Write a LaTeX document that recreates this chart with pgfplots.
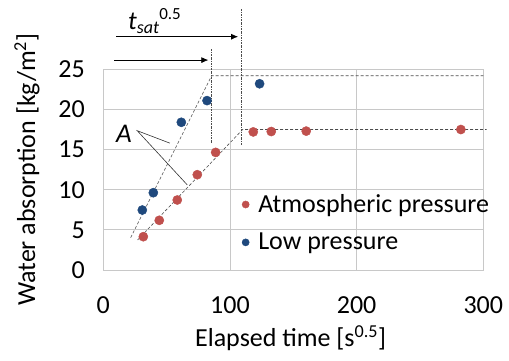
\documentclass[border=0pt]{standalone}
\usepackage{pgfplots}
\pgfplotsset{compat=1.18}
\usepackage{fontspec}
\setmainfont{Carlito}
\usetikzlibrary{arrows.meta}
\definecolor{cred}{HTML}{C0504D}
\definecolor{cblue}{HTML}{1F497D}
\definecolor{cgrid}{HTML}{C8C8C8}
\begin{document}
\begin{tikzpicture}
\begin{axis}[
  scale only axis, width=380pt, height=200.7pt,
  xmin=0, xmax=300, ymin=0, ymax=25,
  xtick={0,100,200,300}, ytick={0,5,10,15,20,25},
  grid=major, major grid style={cgrid, line width=0.8pt},
  axis line style={cgrid, line width=0.8pt},
  tick style={draw=none},
  clip=false,
  /pgf/number format/assume math mode=true,
  tick label style={font=\fontsize{26}{30}\selectfont},
  xticklabel style={yshift=-23pt},
  yticklabel style={xshift=-15pt},
  xlabel={Elapsed time [s\textsuperscript{0.5}]},
  ylabel={Water absorption [kg/m\textsuperscript{2}]},
  every axis x label/.style={at={(axis description cs:0.493,-0.382)}, anchor=base, font=\fontsize{26}{30}\selectfont},
  every axis y label/.style={at={(axis description cs:-0.201,0.5)}, anchor=center, rotate=90, font=\fontsize{26}{30}\selectfont},
  legend style={at={(axis cs:109.4,9.65)}, anchor=north west, draw=none, fill=none,
    font=\fontsize{26}{30}\selectfont, row sep=15pt, column sep=7pt, inner sep=0pt},
  legend image post style={mark size=3.6pt},
  legend cell align=left,
]
% fit lines
\addplot[forget plot, densely dashed, black!70, line width=0.6pt] coordinates {(27.1,3.74) (110,17.5) (302.6,17.5)};
\addplot[forget plot, densely dashed, black!70, line width=0.6pt] coordinates {(21.6,4.03) (85.5,24.2) (300,24.2)};
% vertical markers
\addplot[forget plot, dash pattern=on 2pt off 1pt on 0.6pt off 1pt, black!70, line width=0.6pt] coordinates {(108.7,15.6) (108.7,32.5)};
\addplot[forget plot, dash pattern=on 2pt off 1pt on 0.6pt off 1pt, black!70, line width=0.6pt] coordinates {(85.5,15.8) (85.5,27.6)};
% arrows
\addplot[forget plot, -{Latex[length=7pt,width=6pt]}, black, line width=0.7pt] coordinates {(10.1,29.06) (106.4,29.06)};
\addplot[forget plot, -{Latex[length=7pt,width=6pt]}, black, line width=0.7pt] coordinates {(8.5,26.15) (82.9,26.15)};
% A pointer lines
\addplot[forget plot, black!80, line width=0.6pt] coordinates {(52.6,15.8) (26.8,17.35) (66.3,10.6)};
\node[font=\fontsize{27}{30}\selectfont\itshape] at (axis cs:16.2,16.96) {A};
\node[font=\fontsize{26}{30}\selectfont, anchor=base west, inner sep=0pt] at (axis cs:19.5,29.97) {\textit{t}\raisebox{-4.5pt}{\fontsize{18}{20}\selectfont\textit{sat}}\raisebox{9.5pt}{\fontsize{17}{20}\selectfont 0.5}};
% data
\addplot[only marks, mark=*, mark size=4.6pt, cred, mark options={draw=cred, fill=cred}] coordinates {
(31.6,4.15) (44.2,6.19) (58.4,8.72) (74.2,11.87) (88.7,14.65) (118.4,17.2) (132.6,17.25) (160.2,17.3) (282.3,17.5)};
\addlegendentry{Atmospheric pressure}
\addplot[only marks, mark=*, mark size=4.6pt, cblue, mark options={draw=cblue, fill=cblue}] coordinates {
(30.8,7.47) (39.5,9.63) (61.6,18.4) (81.9,21.1) (123.4,23.2)};
\addlegendentry{Low pressure}
\end{axis}
\pgfresetboundingbox
\path[use as bounding box] ([shift={(-103.3pt,-90pt)}]current axis.south west) rectangle ([shift={(405.7pt,270pt)}]current axis.south west);
\end{tikzpicture}
\end{document}
